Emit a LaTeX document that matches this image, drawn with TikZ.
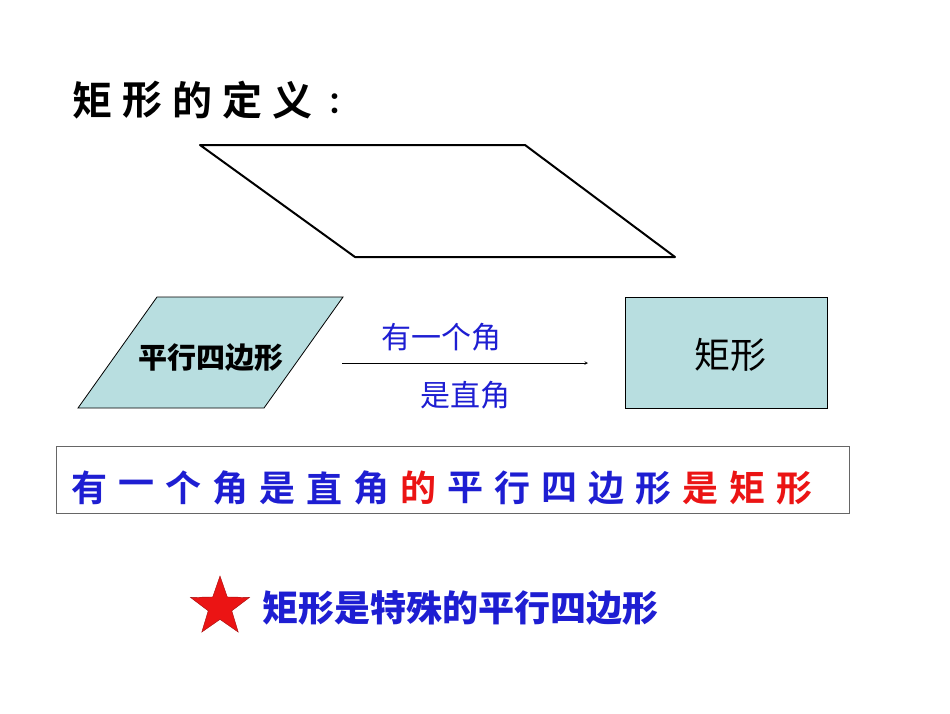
\documentclass[tikz,border=0pt]{standalone}
\usepackage{fontspec}
\usetikzlibrary{shapes.geometric}
\newfontfamily\cjk{Noto Sans CJK SC}
\newfontfamily\cjkB{Noto Sans CJK SC Bold}
\definecolor{fillb}{RGB}{184,222,224}
\definecolor{tblue}{RGB}{30,30,210}
\definecolor{tred}{RGB}{235,20,20}
\tikzset{shape fill/.style={fill=fillb,draw=black,line width=0.8pt},
 txt/.style={inner sep=0pt}}
\begin{document}
\begin{tikzpicture}[x=1pt,y=-1pt]
\useasboundingbox[fill=white] (0,0) rectangle (950,713);
\foreach \c [count=\i] in {矩,形,的,定,义}
  \node[txt] (t\i) at (42+50*\i,100) {\cjkB\fontsize{40}{44}\selectfont \c};
\node[txt] (tc) at (342,104) {\cjkB\fontsize{30}{34}\selectfont ：};
\draw[line width=2pt,line join=round] (200,145) -- (525,145) -- (675,257) -- (355,257) -- cycle;
\draw[shape fill] (78,408) -- (157,297) -- (343,297) -- (264,408) -- cycle;
\node[txt] (para) at (211,358) {\cjk\bfseries\fontsize{29}{33}\selectfont 平行四边形};
\node[draw=black,fill=fillb,line width=0.8pt,minimum width=202pt,minimum height=111pt] (rect) at (726,352.5) {};
\node[txt] (rl) at (730,355) {\cjk\fontsize{36}{40}\selectfont 矩形};
\coordinate (a1) at (342,363);
\coordinate (a2) at (588,363);
\draw[-stealth,line width=0.6pt] (a1) -- (a2);
\node[txt,text=tblue] (l1) at (441,337) {\cjk\fontsize{30}{34}\selectfont 有一个角};
\node[txt,text=tblue] (l2) at (465,395) {\cjk\fontsize{30}{34}\selectfont 是直角};
\draw[draw=gray!80!black,line width=0.6pt] (56,446) rectangle (849,513);
\foreach \c/\col [count=\i] in {有/tblue,一/tblue,个/tblue,角/tblue,是/tblue,直/tblue,角/tblue,的/tred,平/tblue,行/tblue,四/tblue,边/tblue,形/tblue,是/tred,矩/tred,形/tred}
  \node[txt,text=\col] (d\i) at (42+47*\i,488) {\cjkB\fontsize{36}{40}\selectfont \c};
\node[star,star points=5,star point ratio=2.5,fill=tred,draw=tred!70!black,minimum size=62pt,inner sep=0pt] (st) at (220,607) {};
\node[txt,anchor=west,text=tblue] (note) at (262,608) {\cjk\bfseries\fontsize{36}{40}\selectfont 矩形是特殊的平行四边形};
\end{tikzpicture}
\end{document}
